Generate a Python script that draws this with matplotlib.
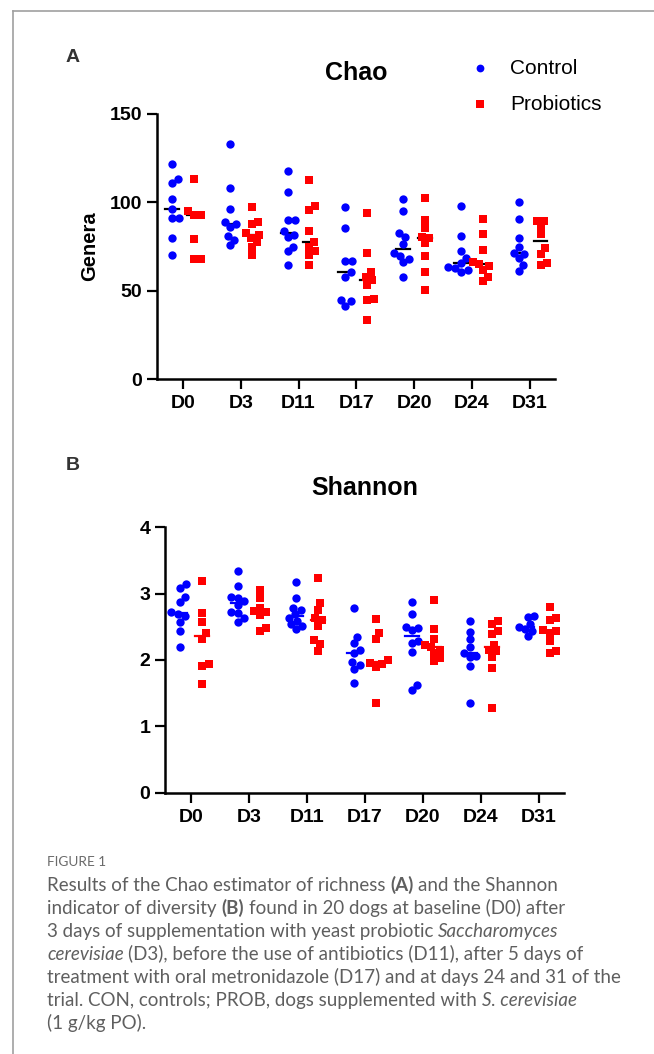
import numpy as np
import matplotlib
matplotlib.use("Agg")
import matplotlib.pyplot as plt
from matplotlib.lines import Line2D

plt.rcParams['font.family'] = ['Liberation Sans', 'DejaVu Sans']

# ---- data ----
days = ["D0", "D3", "D11", "D17", "D20", "D24", "D31"]

chao_con = [
    [121.7, 113, 110.8, 102, 96, 91, 91, 80, 70],
    [133, 108, 96, 89, 88, 86, 81, 78.8, 75.6],
    [117.6, 106, 90, 90, 83.9, 81.6, 80.6, 75, 72.7, 64.3],
    [97.6, 85.7, 66.7, 66.7, 60.5, 58, 44.8, 43.9, 41.5],
    [102, 95, 82.5, 80.3, 76.5, 71.2, 69.7, 67.8, 66.1, 58],
    [98, 81.2, 72.2, 68.4, 65.6, 63.5, 62.7, 61.5, 60.5],
    [100, 90.6, 80, 75, 71.6, 70.9, 68.4, 64.3, 61.4],
]
chao_pro = [
    [113, 95, 93, 93, 79, 68, 68],
    [97.6, 89, 87.8, 82.5, 81.6, 79.7, 77.8, 75, 70],
    [112.7, 98, 95.7, 83.9, 77.8, 75, 72.7, 70.3, 64.3],
    [94.2, 71.2, 60.3, 58, 56.2, 53.3, 45.4, 44.5, 33.5],
    [102.3, 90, 85.4, 80.6, 80, 76.9, 69.7, 60.5, 50.5],
    [90.6, 82, 73.1, 66.5, 65.2, 63.7, 61.8, 58, 55.2],
    [89.7, 89.7, 86.3, 82, 74, 70.9, 65.6, 64.3],
]
shan_con = [
    [3.14, 3.09, 2.95, 2.87, 2.73, 2.69, 2.66, 2.58, 2.43, 2.19],
    [3.34, 3.12, 2.95, 2.94, 2.89, 2.83, 2.73, 2.71, 2.64, 2.58],
    [3.18, 2.94, 2.79, 2.75, 2.69, 2.64, 2.59, 2.54, 2.51, 2.46],
    [2.78, 2.35, 2.26, 2.15, 2.10, 1.97, 1.92, 1.87, 1.65],
    [2.87, 2.69, 2.50, 2.48, 2.45, 2.28, 2.25, 2.12, 1.62, 1.55],
    [2.59, 2.42, 2.31, 2.20, 2.10, 2.06, 2.04, 1.91, 1.35],
    [2.67, 2.65, 2.55, 2.50, 2.47, 2.44, 2.36],
]
shan_pro = [
    [3.19, 2.71, 2.58, 2.40, 2.31, 1.94, 1.91, 1.64],
    [3.06, 2.93, 2.79, 2.74, 2.73, 2.68, 2.48, 2.43],
    [3.24, 2.86, 2.76, 2.64, 2.60, 2.51, 2.30, 2.24, 2.14],
    [2.62, 2.41, 2.32, 2.00, 1.95, 1.94, 1.90, 1.35],
    [2.90, 2.47, 2.31, 2.23, 2.20, 2.15, 2.10, 2.03, 1.98],
    [2.59, 2.54, 2.44, 2.39, 2.23, 2.15, 2.13, 2.05, 1.88, 1.27],
    [2.80, 2.63, 2.60, 2.45, 2.43, 2.40, 2.29, 2.14, 2.10],
]

BLUE = "#0000ff"
RED = "#ff0000"
W, H = 654, 1054
MS = 6.0


def swarm_x(ax, center, vals, d=7.0):
    # simple beeswarm in pixel space, returns x in data units
    xy = ax.transData.transform(np.column_stack([np.full(len(vals), center), vals]))
    cx, ys = xy[0, 0], xy[:, 1]
    xs = np.zeros(len(vals))
    placed = []
    for i in np.argsort(ys):
        y = ys[i]
        cands = [0.0]
        for px, py in placed:
            dy = y - py
            if abs(dy) < d:
                dx = np.sqrt(d * d - dy * dy)
                cands += [px + dx, px - dx]
        cands.sort(key=abs)
        for c in cands:
            if all((c - px) ** 2 + (y - py) ** 2 >= d * d - 1e-6 for px, py in placed):
                xs[i] = c
                break
        placed.append((xs[i], y))
    back = ax.transData.inverted().transform(np.column_stack([cx + xs, ys]))
    return back[:, 0]


def panel(rect, con, pro, yticks, ymax, mcol_con, mcol_pro):
    ax = fig.add_axes(rect)
    ax.set_xlim(-0.45, 6.44)
    ax.set_ylim(0, ymax)
    for s in ("top", "right"):
        ax.spines[s].set_visible(False)
    for s in ("left", "bottom"):
        ax.spines[s].set_linewidth(1.8)
    ax.tick_params(axis="x", length=7.2, width=1.6, pad=4.5)
    ax.tick_params(axis="y", length=7.2, width=1.6, pad=3.5)
    ax.set_xticks(range(len(days)), days, fontsize=14, fontweight="bold")
    ax.set_yticks(yticks, [str(v) for v in yticks], fontsize=14, fontweight="bold")
    off = 0.19
    for i in range(len(days)):
        for vals, sgn, col, mk, mc in ((con[i], -1, BLUE, "o", mcol_con),
                                       (pro[i], 1, RED, "s", mcol_pro)):
            c = i + sgn * off
            med = np.median(vals)
            ax.plot([c - 0.12, c + 0.12], [med, med], color=mc, lw=1.6, zorder=2)
            xs = swarm_x(ax, c, vals)
            ax.plot(xs, vals, mk, color=col, ms=MS, mew=0, zorder=3, clip_on=False)
    return ax


fig = plt.figure(figsize=(W / 100, H / 100), dpi=100)

axA = panel([157 / W, 1 - 379 / H, 398 / W, 265 / H], chao_con, chao_pro,
            [0, 50, 100, 150], 150, "black", "black")
axA.set_ylabel("Genera", fontsize=14.5, fontweight="bold")
axA.yaxis.set_label_coords(-0.145, 0.5)
axA.set_title("Chao", fontsize=18, fontweight="bold", pad=0, y=1.13)

axB = panel([165 / W, 1 - 792.7 / H, 399 / W, 265.4 / H], shan_con, shan_pro,
            [0, 1, 2, 3, 4], 4, BLUE, RED)
axB.set_title("Shannon", fontsize=18, fontweight="bold", pad=0, y=1.12)

# legend
for y, mk, col, lab in ((68, "o", BLUE, "Control"), (104, "s", RED, "Probiotics")):
    fig.add_artist(Line2D([480 / W], [1 - y / H], marker=mk, color=col, ms=5.6, mew=0,
                          transform=fig.transFigure))
    fig.text(510 / W, 1 - (y + 1) / H, lab, fontsize=15, va="center", ha="left")

fig.text(66 / W, 1 - 58 / H, "A", fontsize=14, fontweight="bold", color="#333333", va="center")
fig.text(66 / W, 1 - 466 / H, "B", fontsize=14, fontweight="bold", color="#333333", va="center")

# frame lines on the left/top
fig.add_artist(Line2D([13 / W, 13 / W], [1 - 11 / H, 0], color="#a0a0a0", lw=1.2,
                      transform=fig.transFigure))
fig.add_artist(Line2D([13 / W, 1], [1 - 11 / H, 1 - 11 / H], color="#a0a0a0", lw=1.2,
                      transform=fig.transFigure))

# caption
renderer = fig.canvas.get_renderer()
cap_kw = dict(family=["Lato", "DejaVu Sans"], fontsize=13.5, color="#5f5f5f", va="baseline")


def text_w(s, **kw):
    t = fig.text(0, 0, s, **kw)
    w = t.get_window_extent(renderer=renderer).width
    t.remove()
    return w


def rich_line(x, y, parts):
    sp = text_w("a a", **cap_kw) - text_w("aa", **cap_kw)
    for s, style in parts:
        kw = dict(cap_kw)
        if style == "b":
            kw["fontweight"] = "bold"
        elif style == "i":
            kw["fontstyle"] = "italic"
        lead = len(s) - len(s.lstrip(" "))
        trail = len(s) - len(s.rstrip(" "))
        x += lead * sp
        core = s.strip(" ")
        t = fig.text(x / W, 1 - y / H, core, **kw)
        x += t.get_window_extent(renderer=renderer).width + trail * sp


fig.text(47 / W, 1 - 866 / H, "FIGURE 1", family=["Lato", "DejaVu Sans"], fontsize=9.8,
         color="#6a6a6a", va="baseline")
caption = [
    [("Results of the Chao estimator of richness ", ""), ("(A)", "b"), (" and the Shannon", "")],
    [("indicator of diversity ", ""), ("(B)", "b"), (" found in 20 dogs at baseline (D0) after", "")],
    [("3 days of supplementation with yeast probiotic ", ""), ("Saccharomyces", "i")],
    [("cerevisiae", "i"), (" (D3), before the use of antibiotics (D11), after 5 days of", "")],
    [("treatment with oral metronidazole (D17) and at days 24 and 31 of the", "")],
    [("trial. CON, controls; PROB, dogs supplemented with ", ""), ("S. cerevisiae", "i")],
    [("(1 g/kg PO).", "")],
]
for k, parts in enumerate(caption):
    rich_line(47, 891 + 23 * k, parts)

fig.savefig("out.png", dpi=100)
